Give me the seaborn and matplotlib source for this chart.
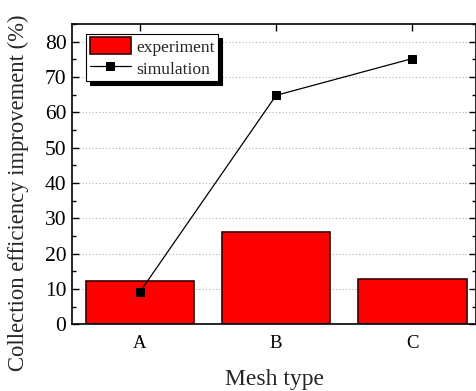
import matplotlib
matplotlib.use("Agg")
import matplotlib.pyplot as plt
import seaborn as sns
import pandas as pd
from matplotlib.ticker import MultipleLocator

categories = ["A", "B", "C"]
experiment = [12.3, 26.2, 12.8]
simulation = [9.2, 64.8, 75.2]

sns.set_theme(style="ticks")
plt.rcParams['font.family'] = ['Liberation Serif', 'DejaVu Serif']
plt.rcParams['mathtext.fontset'] = 'stix'

fig = plt.figure(figsize=(4.77, 3.91), dpi=100)
ax = fig.add_axes([0.151, 0.1706, 0.847, 0.768])

df = pd.DataFrame({"cat": categories, "exp": experiment, "sim": simulation})
sns.barplot(data=df, x="cat", y="exp", color="#ff0000", edgecolor="#3a0000",
            linewidth=1.2, width=0.8, saturation=1, ax=ax, label="experiment",
            zorder=2)
pos = list(range(len(categories)))
sns.lineplot(x=pos, y=simulation, ax=ax, color="black", marker="s",
             markersize=6, markeredgecolor="black", linewidth=0.9,
             label="simulation", zorder=3)

ax.set_xlim(-0.5, 2.47)
ax.set_ylim(0, 85)
ax.yaxis.set_major_locator(MultipleLocator(10))
ax.yaxis.set_minor_locator(MultipleLocator(5))
ax.set_xticks(pos)
ax.set_xticklabels(categories)
ax.grid(axis="y", which="major", color="#b0b0b0", linestyle=(0, (1, 2)), linewidth=0.8, zorder=0)
ax.set_axisbelow(True)
ax.tick_params(axis="both", which="both", direction="in", top=True, right=True,
               colors="black")
ax.tick_params(axis="y", which="major", length=5, width=1, labelsize=15.5, pad=4)
ax.tick_params(axis="y", which="minor", length=3, width=1)
ax.tick_params(axis="x", which="major", length=5, width=1, pad=8, labelsize=13.5)
for s in ax.spines.values():
    s.set_color("black")
    s.set_linewidth(1.2)

ax.set_xlabel("Mesh type", fontsize=17, labelpad=12)
ax.set_ylabel("Collection efficiency improvement (%)", fontsize=16.3)
ax.yaxis.set_label_coords(-0.107, 0.437)

handles, labels = ax.get_legend_handles_labels()
order = [labels.index("experiment"), labels.index("simulation")]
leg = ax.legend([handles[i] for i in order], [labels[i] for i in order],
                loc="upper left", bbox_to_anchor=(0.035, 0.967), fontsize=12.6,
                frameon=True, fancybox=False, edgecolor="black", framealpha=1,
                shadow={"color": "black", "alpha": 1, "ox": 3, "oy": -3},
                borderpad=0.2, labelspacing=0.2, handlelength=2.35,
                handleheight=1.1, handletextpad=0.3, borderaxespad=0)
leg.get_frame().set_linewidth(0.8)

fig.savefig("out.png", dpi=100)
